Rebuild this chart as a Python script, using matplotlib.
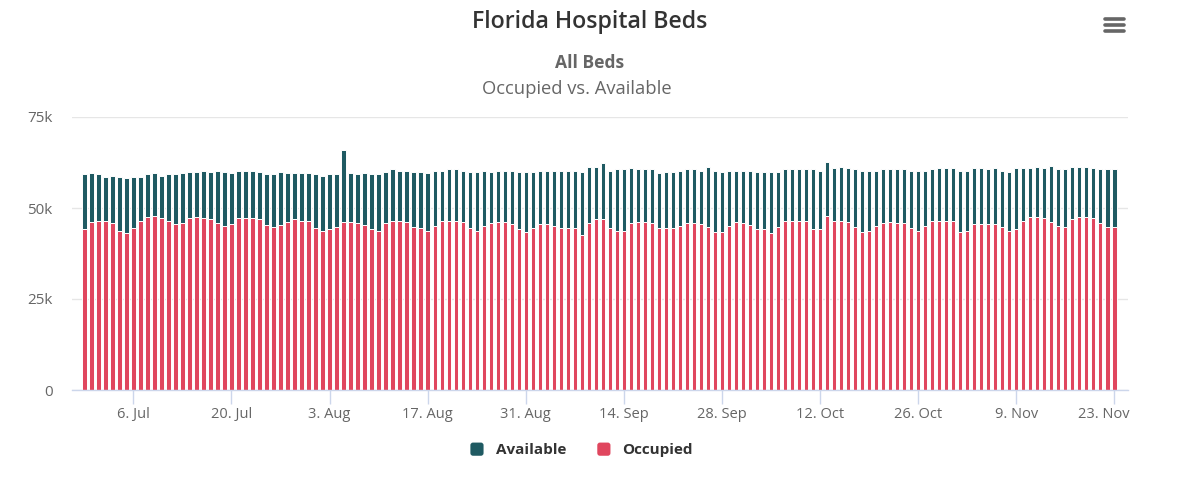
import matplotlib
matplotlib.use("Agg")
import matplotlib.pyplot as plt
import matplotlib.transforms as mtransforms
from matplotlib.patches import FancyBboxPatch, Patch
from matplotlib.legend_handler import HandlerPatch
from matplotlib.lines import Line2D
import pandas as pd

plt.rcParams['font.family'] = ['Open Sans', 'DejaVu Sans']

start_date = "2020-06-29"
n_days = 148

total_beds = [
    59250, 59500, 59250, 58500, 58900, 58500, 58150, 58500, 58500, 59250,
    59500, 58900, 59250, 59250, 59500, 59900, 59900, 60300, 59900, 60300,
    59900, 59500, 60300, 60300, 60300, 59900, 59250, 59250, 59900, 59500,
    59500, 59500, 59500, 59250, 58900, 59250, 59250, 65800, 59500, 59250,
    59500, 59250, 59250, 59900, 60600, 60300, 60300, 59900, 59900, 59500,
    60300, 60300, 60600, 60600, 60300, 59900, 59900, 60300, 59900, 60300,
    60300, 60300, 59900, 59900, 59900, 60300, 60300, 60300, 60300, 60300,
    60300, 59900, 61300, 61300, 62300, 60300, 60600, 60600, 60900, 60600,
    60600, 60600, 59500, 59900, 59900, 60300, 60600, 60600, 60300, 61300,
    60300, 59900, 60300, 60300, 60300, 60300, 59900, 59900, 59900, 59900,
    60600, 60600, 60600, 60600, 60600, 60300, 62600, 60900, 61300, 60900,
    60600, 60300, 60300, 60300, 60600, 60600, 60600, 60600, 60300, 60300,
    60300, 60600, 60900, 60900, 60900, 60300, 60300, 60900, 60900, 60600,
    60900, 60300, 59900, 60900, 60900, 60900, 61300, 60900, 61600, 60600,
    60600, 61300, 61300, 61300, 60900, 60600, 60600, 60600,
]

occupied = [
    44100, 46100, 46500, 46500, 45800, 43800, 43000, 44400, 46500, 47400,
    47800, 47200, 46500, 45500, 45800, 47200, 47400, 47200, 46900, 45800,
    45100, 45500, 47200, 47200, 47200, 46900, 45300, 44700, 45300, 46100,
    46900, 46500, 46500, 44400, 43800, 44100, 44700, 46100, 46100, 45800,
    45300, 44100, 43800, 45800, 46500, 46500, 46100, 44700, 44400, 43800,
    45100, 46500, 46500, 46500, 46100, 44400, 43800, 45100, 45800, 46100,
    46100, 45500, 44100, 43300, 44400, 45500, 45500, 45100, 44400, 44400,
    44400, 42700, 45800, 46900, 46900, 44400, 43800, 43800, 45800, 46100,
    46100, 45800, 44400, 44400, 44400, 45100, 45800, 45800, 45500, 44700,
    43300, 43300, 45100, 46100, 45800, 45300, 44100, 44100, 43000, 44700,
    46500, 46500, 46500, 46500, 44100, 44100, 47800, 46500, 46500, 46100,
    44700, 43300, 43800, 45100, 45800, 46100, 45800, 45800, 44400, 43800,
    45000, 46500, 46500, 46500, 46500, 43300, 43800, 45500, 45500, 45500,
    45500, 44700, 43800, 44100, 46500, 47400, 47400, 47200, 46100, 45000,
    44700, 46900, 47400, 47400, 47200, 45800, 44800, 44700,
]

available = [t - o for t, o in zip(total_beds, occupied)]

tick_labels = ["6. Jul", "20. Jul", "3. Aug", "17. Aug", "31. Aug", "14. Sep",
               "28. Sep", "12. Oct", "26. Oct", "9. Nov", "23. Nov"]
tick_dates = ["2020-07-06", "2020-07-20", "2020-08-03", "2020-08-17", "2020-08-31",
              "2020-09-14", "2020-09-28", "2020-10-12", "2020-10-26", "2020-11-09",
              "2020-11-23"]

y_ticks = [0, 25000, 50000, 75000]
y_tick_labels = ["0", "25k", "50k", "75k"]

series_names = ["Available", "Occupied"]
color_available = "#1f5a62"
color_occupied = "#e0465e"

x = list(range(n_days))
d0 = pd.Timestamp(start_date)
tick_pos = [(pd.Timestamp(d) - d0).days for d in tick_dates]

fig = plt.figure(figsize=(12, 4.97), dpi=100)
ax = fig.add_axes([0.06, 1 - 390 / 497, 0.88, (390 - 117) / 497])

bw = 0.62
ax.bar(x, occupied, width=bw, color=color_occupied, edgecolor="white", linewidth=0.7, zorder=3)
ax.bar(x, available, width=bw, bottom=occupied, color=color_available, edgecolor="white",
       linewidth=0.7, zorder=3)

ax.set_xlim(-1.76, 148.95)
ax.set_ylim(0, 75000)
ax.set_yticks(y_ticks)
ax.set_yticklabels(y_tick_labels)
ax.set_xticks(tick_pos)
ax.set_xticklabels(tick_labels)

ax.grid(axis="y", color="#e6e6e6", linewidth=1, zorder=0)
ax.grid(axis="x", visible=False)
for s in ["top", "right", "left"]:
    ax.spines[s].set_visible(False)
ax.spines["bottom"].set_color("#ccd6eb")
ax.spines["bottom"].set_linewidth(1)
ax.spines["bottom"].set_zorder(4)

ax.tick_params(axis="y", length=0, pad=14, labelsize=11, labelcolor="#666666")
ax.tick_params(axis="x", length=10, width=1, color="#ccd6eb", pad=2, labelsize=10.5,
               labelcolor="#666666")
for lab in ax.get_yticklabels():
    lab.set_horizontalalignment("right")

# keep last x label inside plot area
last = ax.get_xticklabels()[-1]
last.set_transform(last.get_transform() + mtransforms.ScaledTranslation(-11 / 100, 0, fig.dpi_scale_trans))

fig.text(590 / 1200, 1 - 22 / 497, "Florida Hospital Beds", ha="center", va="center",
         fontsize=16.7, fontweight="semibold", color="#333333")
fig.text(590 / 1200, 1 - 63 / 497, "All Beds", ha="center", va="center",
         fontsize=12.6, fontweight="bold", color="#666666")
fig.text(577 / 1200, 1 - 89 / 497, "Occupied vs. Available", ha="center", va="center",
         fontsize=13.2, color="#666666")


class RoundHandler(HandlerPatch):
    def create_artists(self, legend, orig_handle, xdescent, ydescent, width, height,
                       fontsize, trans):
        s = min(width, height)
        p = FancyBboxPatch((-xdescent + (width - s) / 2, -ydescent + (height - s) / 2), s, s,
                           boxstyle="round,pad=0,rounding_size=%f" % (s * 0.2),
                           facecolor=orig_handle.get_facecolor(), edgecolor="none",
                           transform=trans)
        return [p]


handles = [Patch(facecolor=color_available), Patch(facecolor=color_occupied)]
leg = fig.legend(handles, series_names, loc="center", bbox_to_anchor=(0.4845, 1 - 450 / 497),
                 ncol=2, frameon=False, handlelength=0.95, handleheight=0.95,
                 handletextpad=0.75, columnspacing=2.0,
                 handler_map={Patch: RoundHandler()},
                 prop={"weight": "bold", "size": 11})
for t in leg.get_texts():
    t.set_color("#333333")

for yy in [19, 25, 31]:
    fig.add_artist(Line2D([1105 / 1200, 1124 / 1200], [1 - yy / 497, 1 - yy / 497],
                          color="#666666", linewidth=2.6, solid_capstyle="round"))

fig.savefig("out.png", dpi=100, facecolor="white")
